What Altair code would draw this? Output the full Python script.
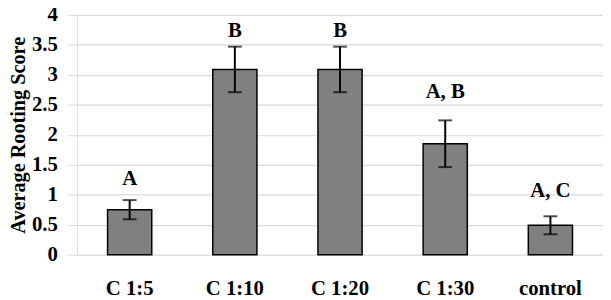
import altair as alt
import pandas as pd

categories = ["C 1:5", "C 1:10", "C 1:20", "C 1:30", "control"]
means = [0.75, 3.09, 3.09, 1.85, 0.49]
errors = [0.16, 0.38, 0.38, 0.39, 0.15]
letters = ["A", "B", "B", "A, B", "A, C"]
letter_y = [1.17, 3.63, 3.63, 2.62, 0.97]
y_ticks = [0, 0.5, 1, 1.5, 2, 2.5, 3, 3.5, 4]

df = pd.DataFrame({
    "cat": categories,
    "mean": means,
    "err": errors,
    "letter": letters,
    "ly": letter_y,
})
df["lo"] = df["mean"] - df["err"]
df["hi"] = df["mean"] + df["err"]

FONT = "Liberation Serif"
TITLE = "Average Rooting Score"

x = alt.X("cat:N", sort=categories, title=None,
          scale=alt.Scale(paddingInner=0.58, paddingOuter=0.29),
          axis=alt.Axis(labelAngle=0, domain=False, ticks=False,
                        labelFont=FONT, labelFontSize=21, labelFontWeight="bold",
                        labelColor="black", labelPadding=23))

y_scale = alt.Scale(domain=[0, 4], nice=False)
y_axis = alt.Axis(values=y_ticks, format="~g", labelOverlap=False,
                  grid=True, gridColor="#d9d9d9", gridWidth=1.2,
                  domainColor="#d9d9d9", tickColor="#d9d9d9", tickSize=10,
                  labelFont=FONT, labelFontSize=21, labelFontWeight="bold",
                  labelColor="black", labelPadding=10,
                  titleFont=FONT, titleFontSize=20.5, titleFontWeight="bold",
                  titleColor="black", titlePadding=3)


def yenc(field):
    return alt.Y(field, scale=y_scale, title=TITLE, axis=y_axis)


bars = alt.Chart(df).mark_bar(color="#808080", stroke="black", strokeWidth=1.5).encode(
    x=x, y=yenc("mean:Q"))

rules = alt.Chart(df).mark_rule(color="black", strokeWidth=2).encode(
    x=x, y=yenc("lo:Q"), y2="hi:Q")
caps_hi = alt.Chart(df).mark_tick(color="black", thickness=2, size=14, orient="horizontal").encode(
    x=x, y=yenc("hi:Q"))
caps_lo = alt.Chart(df).mark_tick(color="black", thickness=2, size=14, orient="horizontal").encode(
    x=x, y=yenc("lo:Q"))

texts = alt.Chart(df).mark_text(font=FONT, fontSize=21, fontWeight="bold", color="black",
                                baseline="alphabetic").encode(
    x=x, y=yenc("ly:Q"), text="letter:N")

chart = alt.layer(bars, rules, caps_hi, caps_lo, texts).properties(
    width=533, height=243,
    autosize=alt.AutoSizeParams(type="none"),
    padding={"left": 70, "top": 5, "right": 0, "bottom": 44},
).configure_view(stroke=None)

chart.save("out.html", embed_options={"renderer": "svg", "actions": False})
